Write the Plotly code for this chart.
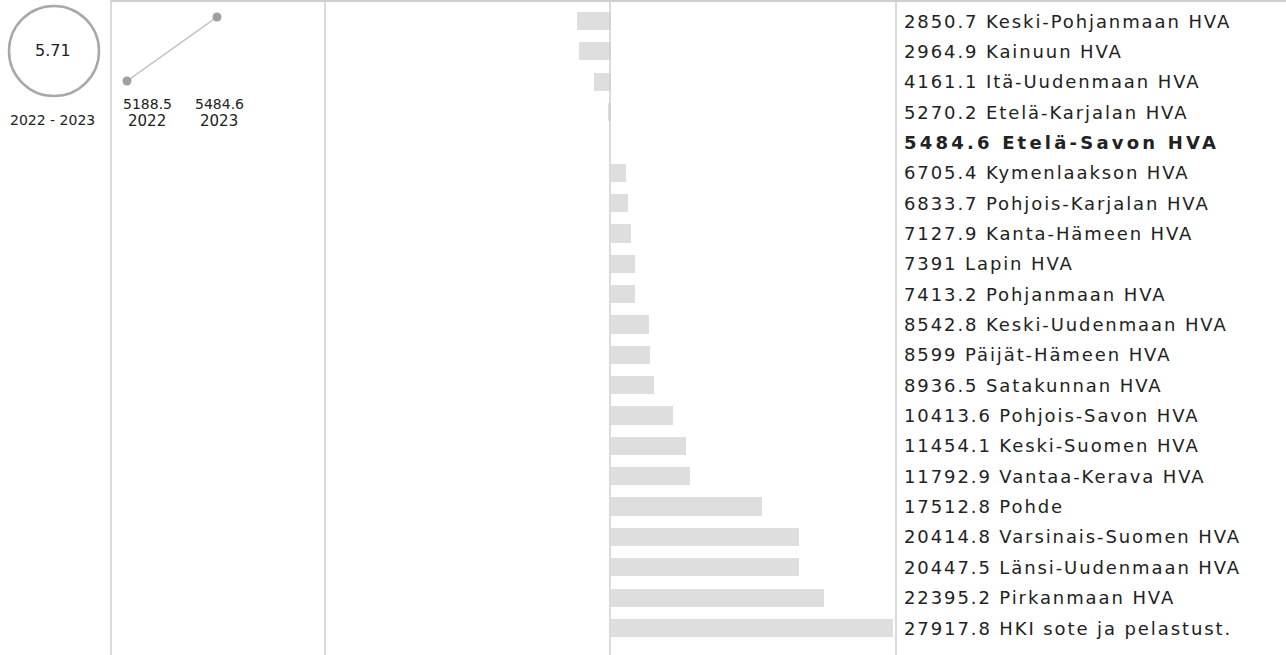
import plotly.graph_objects as go

W, H = 1286, 655

# ---- data ----
regions = ["Keski-Pohjanmaan HVA", "Kainuun HVA", "Itä-Uudenmaan HVA", "Etelä-Karjalan HVA",
           "Etelä-Savon HVA", "Kymenlaakson HVA", "Pohjois-Karjalan HVA", "Kanta-Hämeen HVA",
           "Lapin HVA", "Pohjanmaan HVA", "Keski-Uudenmaan HVA", "Päijät-Hämeen HVA",
           "Satakunnan HVA", "Pohjois-Savon HVA", "Keski-Suomen HVA", "Vantaa-Kerava HVA",
           "Pohde", "Varsinais-Suomen HVA", "Länsi-Uudenmaan HVA", "Pirkanmaan HVA",
           "HKI sote ja pelastust."]
values = [2850.7, 2964.9, 4161.1, 5270.2, 5484.6, 6705.4, 6833.7, 7127.9, 7391, 7413.2,
          8542.8, 8599, 8936.5, 10413.6, 11454.1, 11792.9, 17512.8, 20414.8, 20447.5,
          22395.2, 27917.8]
highlight = "Etelä-Savon HVA"
years = ["2022", "2023"]
trend = [5188.5, 5484.6]
value_labels = ["5188.5", "5484.6"]

ref = values[regions.index(highlight)]
diffs = [v - ref for v in values]
change = (trend[1] - trend[0]) / trend[0] * 100

def fx(px):
    return px / W

def fy(py):
    return 1 - py / H

fig = go.Figure()

# small line chart
fig.add_trace(go.Scatter(
    x=[0, 1], y=trend, mode="lines+markers",
    line=dict(color="#bdbdbd", width=1.5),
    marker=dict(color="#a0a0a0", size=9),
    xaxis="x", yaxis="y", hoverinfo="skip", showlegend=False))

# bars
idx = list(range(len(regions)))
fig.add_trace(go.Bar(
    x=diffs, y=idx, orientation="h", base=0,
    marker=dict(color="#dedede", line=dict(width=0)),
    width=0.6, xaxis="x2", yaxis="y2", hoverinfo="skip", showlegend=False))

# ---- axes ----
ppu_x = 90.0
lx0 = -(127 - 111) / ppu_x
lx1 = 1 + (325 - 217) / ppu_x
upp = (trend[1] - trend[0]) / (81 - 17)
ly_top = trend[1] + 17 * upp
ly_bot = trend[1] - (100 - 17) * upp

mx = max(abs(d) for d in diffs) * 1.01
sp = 30.35
ry_top = -21 / sp
ry_bot = (H - 21) / sp

fig.update_layout(
    width=W, height=H,
    margin=dict(l=0, r=0, t=0, b=0),
    paper_bgcolor="white", plot_bgcolor="white",
    font=dict(family="DejaVu Sans", color="#222"),
    xaxis=dict(domain=[fx(111), fx(325)], range=[lx0, lx1], visible=False, fixedrange=True),
    yaxis=dict(domain=[fy(100), 1], range=[ly_bot, ly_top], visible=False, fixedrange=True),
    xaxis2=dict(domain=[fx(325), fx(896)], range=[-mx, mx], visible=False, fixedrange=True),
    yaxis2=dict(domain=[0, 1], range=[ry_bot, ry_top], visible=False, fixedrange=True),
    bargap=0,
)

shapes = []
line_col = "#cfcfcf"
for px in [111, 325, 610, 896]:
    shapes.append(dict(type="line", xref="paper", yref="paper", x0=fx(px), x1=fx(px),
                       y0=0, y1=1, line=dict(color=line_col, width=1.5)))
shapes.append(dict(type="line", xref="paper", yref="paper", x0=fx(111), x1=1,
                   y0=fy(1), y1=fy(1), line=dict(color=line_col, width=2)))
# circle
shapes.append(dict(type="circle", xref="paper", yref="paper",
                   x0=fx(9), x1=fx(99), y0=fy(96), y1=fy(6),
                   line=dict(color="#a8a8a8", width=2.5)))
fig.update_layout(shapes=shapes)

ann = []
ann.append(dict(xref="paper", yref="paper", x=fx(53), y=fy(51), text=f"{change:.2f}",
                showarrow=False, font=dict(size=16, color="#222"), xanchor="center", yanchor="middle"))
ann.append(dict(xref="paper", yref="paper", x=fx(52), y=fy(120), text=f"{years[0]} - {years[1]}",
                showarrow=False, font=dict(size=14, color="#222"), xanchor="center", yanchor="middle"))
label_x = [147, 219]
for i, (yr, lab) in enumerate(zip(years, value_labels)):
    cx = label_x[i]
    ann.append(dict(xref="paper", yref="paper", x=fx(cx), y=fy(104), text=lab,
                    showarrow=False, font=dict(size=14, color="#222"), xanchor="center", yanchor="middle"))
    ann.append(dict(xref="paper", yref="paper", x=fx(cx), y=fy(121), text=yr,
                    showarrow=False, font=dict(size=15, color="#222"), xanchor="center", yanchor="middle"))

for i, (r, v) in enumerate(zip(regions, values)):
    txt = f"{v:g} {r}"
    if r == highlight:
        txt = f'<span style="letter-spacing:3.2px"><b>{txt}</b></span>'
    else:
        txt = f'<span style="letter-spacing:1.9px">{txt}</span>'
    ann.append(dict(xref="paper", yref="y2", x=fx(902), y=i, text=txt, showarrow=False,
                    xanchor="left", yanchor="middle", font=dict(size=18, color="#222")))
fig.update_layout(annotations=ann)

fig.write_html("out.html", config={"displayModeBar": False},
               post_script="document.body.style.margin='0px';")
